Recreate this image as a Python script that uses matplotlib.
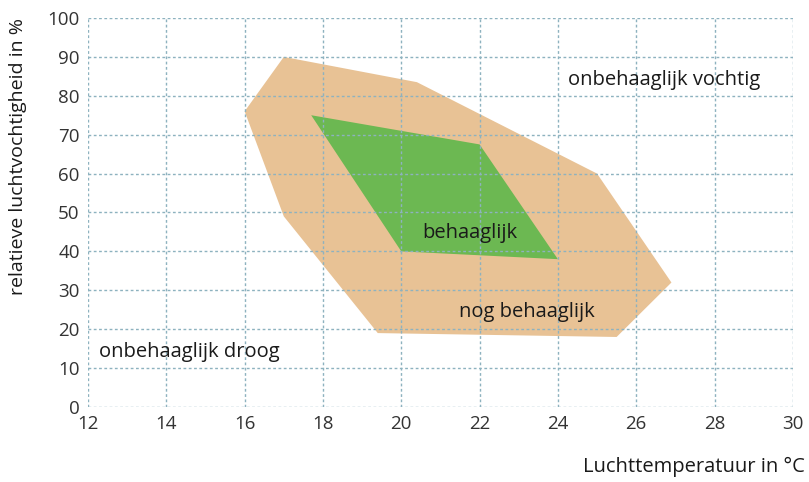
import matplotlib.pyplot as plt
from matplotlib.patches import Polygon

plt.rcParams['font.family'] = ['Open Sans', 'DejaVu Sans']

# comfort zones (temperature in C, relative humidity in %)
tan_temp = [17.0, 20.4, 25.0, 26.9, 25.5, 19.4, 17.0, 16.0]
tan_rh = [90, 83.5, 60, 32, 18, 19, 49, 76]
green_temp = [17.7, 22.0, 24.0, 20.0]
green_rh = [75, 67.5, 38, 40]

x_ticks = [12, 14, 16, 18, 20, 22, 24, 26, 28, 30]
y_ticks = [0, 10, 20, 30, 40, 50, 60, 70, 80, 90, 100]

fig = plt.figure(figsize=(8.09, 4.82), dpi=100)
ax = fig.add_axes([0.1088, 0.1556, 0.8712, 0.8071])

ax.add_patch(Polygon(list(zip(tan_temp, tan_rh)), closed=True,
                     facecolor='#e8c295', edgecolor='none', zorder=1))
ax.add_patch(Polygon(list(zip(green_temp, green_rh)), closed=True,
                     facecolor='#6cb852', edgecolor='none', zorder=2))

ax.set_xlim(12, 30)
ax.set_ylim(0, 100)
ax.set_xticks(x_ticks)
ax.set_yticks(y_ticks)
ax.grid(True, color='#8db2bf', linestyle=(0, (2, 1.8)), linewidth=1.0, zorder=3)
ax.set_axisbelow(False)
for s in ax.spines.values():
    s.set_visible(False)
ax.tick_params(length=0, labelsize=13.5, colors='#333333', pad=6)

ax.text(24.25, 84, 'onbehaaglijk vochtig', fontsize=14.5, color='#1a1a1a',
        va='center', ha='left', zorder=4)
ax.text(21.75, 44.7, 'behaaglijk', fontsize=14.5, color='#1a1a1a',
        va='center', ha='center', zorder=4)
ax.text(23.2, 24.4, 'nog behaaglijk', fontsize=14.5, color='#1a1a1a',
        va='center', ha='center', zorder=4)
ax.text(12.28, 14.1, 'onbehaaglijk droog', fontsize=14.5, color='#1a1a1a',
        va='center', ha='left', zorder=4)

fig.text(0.022, 0.675, 'relatieve luchtvochtigheid in %', rotation=90,
         fontsize=14, color='#1a1a1a', ha='center', va='center')
fig.text(0.995, 0.031, 'Luchttemperatuur in °C', fontsize=14.5,
         color='#1a1a1a', ha='right', va='center')

fig.savefig('out.png', dpi=100)
